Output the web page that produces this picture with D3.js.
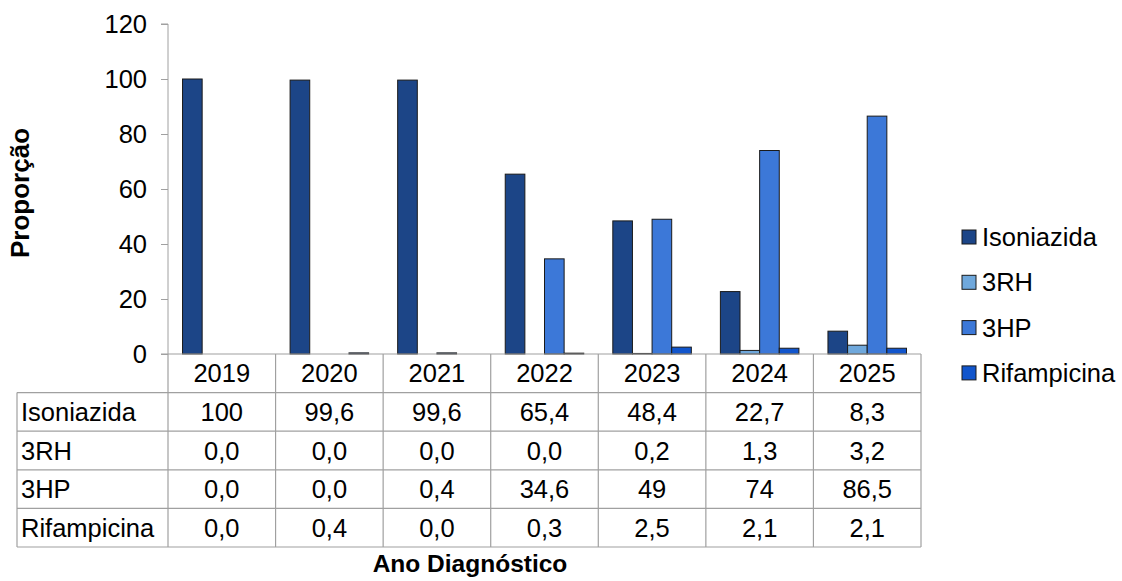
<!DOCTYPE html>
<html>
<head>
<meta charset="utf-8">
<script src="https://cdn.jsdelivr.net/npm/d3@7"></script>
<style>
  body { margin: 0; background: #fff; }
  text { font-family: "Liberation Sans", Arial, sans-serif; fill: #000; }
</style>
</head>
<body>
<div id="graph"></div>
<script>
(function() {
    const years = ["2019", "2020", "2021", "2022", "2023", "2024", "2025"];
    const seriesNames = ["Isoniazida", "3RH", "3HP", "Rifampicina"];
    const isoniazida = [100, 99.6, 99.6, 65.4, 48.4, 22.7, 8.3];
    const rh3 = [0, 0, 0, 0, 0.2, 1.3, 3.2];
    const hp3 = [0, 0, 0.4, 34.6, 49, 74, 86.5];
    const rifampicina = [0, 0.4, 0, 0.3, 2.5, 2.1, 2.1];
    const yTicks = [0, 20, 40, 60, 80, 100, 120];
    const colors = ["#1c4587", "#6fa8dc", "#3c78d8", "#1155cc"];

    const seriesValues = [isoniazida, rh3, hp3, rifampicina];

    const width = 1122, height = 581,
        plotLeft = 168, plotRight = 921,
        plotTop = 24, plotBottom = 354,
        tableLeft = 17, rowH = 38.6,
        fontSize = 25.5;

    const svg = d3.select("#graph")
        .append("svg")
        .attr("width", width)
        .attr("height", height);

    // scales
    const xRange = d3.scaleBand()
        .domain(years)
        .range([plotLeft, plotRight])
        .padding(0);

    const xSeries = d3.scaleBand()
        .domain(seriesNames)
        .range([0, xRange.bandwidth()])
        .paddingInner(0)
        .paddingOuter(0.74);

    const yRange = d3.scaleLinear()
        .domain([0, 120])
        .range([plotBottom, plotTop]);

    const yAxis = d3.axisLeft(yRange)
        .tickValues(yTicks)
        .tickSize(7)
        .tickPadding(14);

    const gy = svg.append("g")
        .attr("transform", "translate(" + plotLeft + ",0)")
        .call(yAxis);
    gy.select(".domain").attr("stroke", "#a0a0a0").attr("d", "M-7," + plotTop + "H0V" + plotBottom);
    gy.selectAll(".tick line").attr("stroke", "#a0a0a0");
    gy.selectAll(".tick text")
        .style("font-family", "Liberation Sans, Arial, sans-serif")
        .style("font-size", fontSize + "px")
        .attr("fill", "#000");

    // bars
    const barData = [];
    seriesNames.forEach((name, si) => {
        years.forEach((year, yi) => {
            barData.push({series: name, year: year, value: seriesValues[si][yi], idx: si});
        });
    });

    svg.selectAll(".bar")
        .data(barData)
        .enter()
        .append("rect")
        .attr("class", "bar")
        .attr("x", d => xRange(d.year) + xSeries(d.series))
        .attr("width", xSeries.bandwidth())
        .attr("y", d => yRange(d.value))
        .attr("height", d => plotBottom - yRange(d.value))
        .attr("fill", d => colors[d.idx])
        .attr("stroke", "#1a1a1a")
        .attr("stroke-width", 1);

    // data table
    const lineColor = "#a0a0a0";
    const tableBottom = plotBottom + rowH * (seriesNames.length + 1);
    const tbl = svg.append("g").attr("fill", "none").attr("stroke", lineColor).attr("stroke-width", 1.2);

    // horizontal lines
    tbl.append("line").attr("x1", plotLeft - 7).attr("x2", plotRight).attr("y1", plotBottom).attr("y2", plotBottom);
    for (let r = 1; r <= seriesNames.length + 1; r++) {
        const y = plotBottom + rowH * r;
        tbl.append("line").attr("x1", tableLeft).attr("x2", plotRight).attr("y1", y).attr("y2", y);
    }
    // vertical lines
    tbl.append("line").attr("x1", tableLeft).attr("x2", tableLeft).attr("y1", plotBottom + rowH).attr("y2", tableBottom);
    years.forEach(year => {
        const x = xRange(year);
        tbl.append("line").attr("x1", x).attr("x2", x).attr("y1", plotBottom).attr("y2", tableBottom);
    });
    tbl.append("line").attr("x1", plotRight).attr("x2", plotRight).attr("y1", plotBottom).attr("y2", tableBottom);

    const fmt = v => (Number.isInteger(v) && v !== 0) ? String(v) : v.toFixed(1).replace(".", ",");

    // header row
    svg.selectAll(".yearLabel")
        .data(years)
        .enter()
        .append("text")
        .attr("x", d => xRange(d) + xRange.bandwidth() / 2)
        .attr("y", plotBottom + rowH / 2 + 9)
        .attr("text-anchor", "middle")
        .style("font-size", fontSize + "px")
        .text(d => d);

    seriesNames.forEach((name, si) => {
        const cy = plotBottom + rowH * (si + 1) + rowH / 2 + 9;
        svg.append("text")
            .attr("x", tableLeft + 4)
            .attr("y", cy)
            .style("font-size", fontSize + "px")
            .text(name);
        svg.selectAll(".cell" + si)
            .data(seriesValues[si])
            .enter()
            .append("text")
            .attr("x", (d, i) => xRange(years[i]) + xRange.bandwidth() / 2)
            .attr("y", cy)
            .attr("text-anchor", "middle")
            .style("font-size", fontSize + "px")
            .text(d => fmt(d));
    });

    // legend
    const legend = svg.selectAll(".legend")
        .data(seriesNames)
        .enter()
        .append("g")
        .attr("transform", (d, i) => "translate(962," + (237 + i * 45.3) + ")");
    legend.append("rect")
        .attr("x", 0).attr("y", -7)
        .attr("width", 14).attr("height", 14)
        .attr("fill", (d, i) => colors[i])
        .attr("stroke", "#1a1a1a");
    legend.append("text")
        .attr("x", 20).attr("y", 9)
        .style("font-size", fontSize + "px")
        .text(d => d);

    // titles
    svg.append("text")
        .attr("transform", "translate(29,193) rotate(-90)")
        .attr("text-anchor", "middle")
        .style("font-size", "26px")
        .style("font-weight", "bold")
        .text("Proporção");

    svg.append("text")
        .attr("x", 470)
        .attr("y", 572)
        .attr("text-anchor", "middle")
        .style("font-size", "24.5px")
        .style("font-weight", "bold")
        .text("Ano Diagnóstico");
})();
</script>
</body>
</html>
